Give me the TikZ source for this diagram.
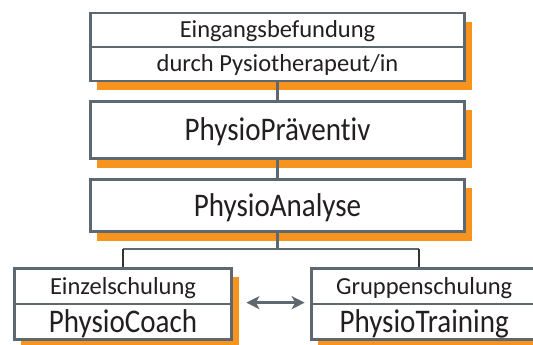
\documentclass[tikz,border=0pt]{standalone}
\usepackage{fontspec}
\setmainfont{Carlito}[Ligatures={NoCommon,NoRare,NoContextual}]
\usetikzlibrary{shadows,arrows.meta}

\definecolor{boxgray}{HTML}{5E6870}
\definecolor{boxorange}{HTML}{F7941D}
\definecolor{textdark}{HTML}{231F20}

\newcommand{\schmal}[1]{\scalebox{0.88}[1]{#1}}

\tikzset{
  stufe/.style={draw=boxgray, line width=2.7pt, fill=white, text=textdark, inner sep=0pt,
    drop shadow={shadow xshift=7pt, shadow yshift=-9pt, fill=boxorange, opacity=1}},
  kleinschrift/.style={font=\fontsize{24.5}{29}\selectfont, text height=17pt, text depth=1.2pt},
  grossschrift/.style={font=\fontsize{33}{38}\selectfont, text height=22.5pt, text depth=1.25pt},
  link/.style={draw=boxgray, line width=2.7pt},
  dunkellink/.style={draw=black!80, line width=2.7pt},
  wechsel/.style={draw=boxgray, line width=2.4pt,
    {Stealth[length=13pt,width=13pt,inset=3.5pt]}-{Stealth[length=13pt,width=13pt,inset=3.5pt]}}
}

\begin{document}
\begin{tikzpicture}[x=1pt,y=-1pt]
  \useasboundingbox (0,0) rectangle (533,345);

  % Draw the upper column
  \node[stufe, kleinschrift, minimum width=374.3pt, minimum height=34pt] (befund) at (277.5,30) {Eingangsbefundung};
  \node[stufe, kleinschrift, minimum width=374.3pt, minimum height=34pt] (therapeut) at (277.5,64) {durch Pysiotherapeut/in};
  \node[stufe, grossschrift, minimum width=374.3pt, minimum height=57.3pt] (praeventiv) at (277.5,130) {\schmal{PhysioPräventiv}};
  \node[stufe, grossschrift, minimum width=374.3pt, minimum height=52.3pt] (analyse) at (277.5,205.5) {\schmal{PhysioAnalyse}};

  % Draw the two ways of training
  \node[stufe, kleinschrift, minimum width=217.3pt, minimum height=35.6pt] (einzel) at (123,286.2) {Einzelschulung};
  \node[stufe, grossschrift, minimum width=217.3pt, minimum height=35.6pt] (coach) at (123,321.8) {\schmal{PhysioCoach}};
  \node[stufe, kleinschrift, minimum width=225.6pt, minimum height=35.6pt] (gruppe) at (424.2,286.2) {Gruppenschulung};
  \node[stufe, grossschrift, minimum width=225.6pt, minimum height=35.6pt] (training) at (424.2,321.8) {\schmal{PhysioTraining}};

  % Draw the connectors
  \coordinate (split) at (277.5,249);
  \coordinate (lsplit) at (einzel.north |- split);
  \coordinate (rsplit) at (419,249);
  \coordinate (rtop) at (rsplit |- gruppe.north);

  \draw[link] (therapeut) -- (praeventiv);
  \draw[link] (praeventiv) -- (analyse);
  \draw[link] (analyse) -- (split);
  \draw[link] (lsplit) -- (rsplit);
  \draw[dunkellink] (lsplit) -- (einzel);
  \draw[dunkellink] (rsplit) -- (rtop);

  % Draw the exchange between both
  \draw[wechsel] ([xshift=13.4pt]coach.north east) -- ([xshift=-5.4pt]training.north west);
\end{tikzpicture}
\end{document}
